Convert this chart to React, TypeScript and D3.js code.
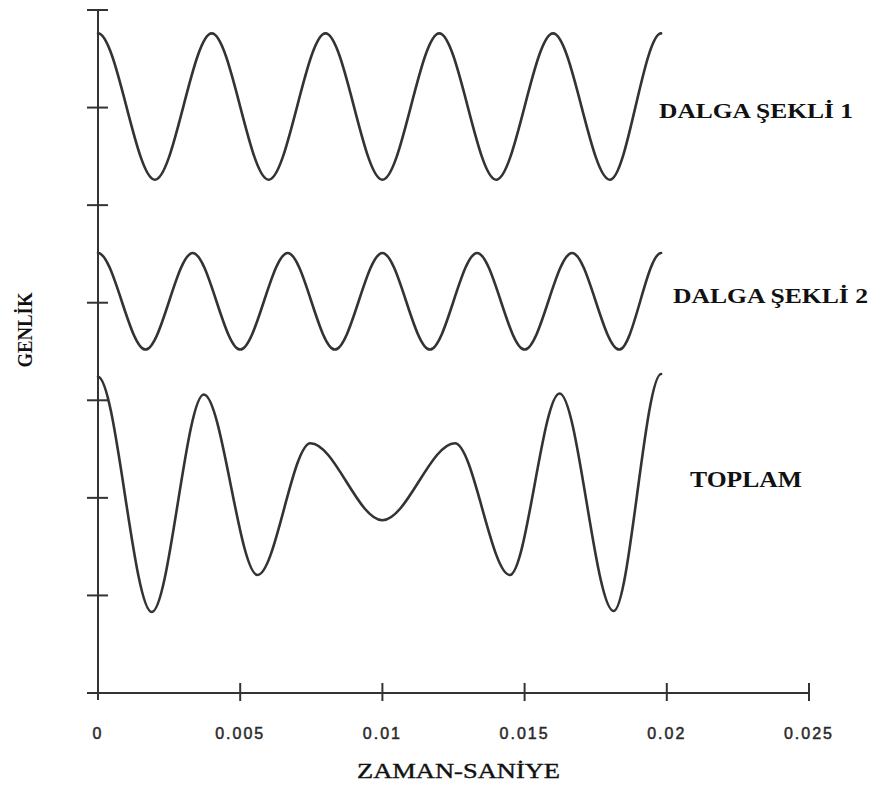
import React from "react";
import * as d3 from "d3";

// ---- data ----
const xTicks = [0, 0.005, 0.01, 0.015, 0.02, 0.025];
const xTickLabels = ["0", "0.005", "0.01", "0.015", "0.02", "0.025"];
const yTicks = [1, 2, 3, 4, 5, 6, 7];

// Waveform 1 (peaks and troughs)
const t1 = [0, 0.002, 0.004, 0.006, 0.008, 0.01, 0.012, 0.014, 0.016, 0.018, 0.0198];
const v1 = [6.76, 5.26, 6.76, 5.26, 6.76, 5.26, 6.76, 5.26, 6.76, 5.26, 6.76];

// Waveform 2 (peaks and troughs)
const t2 = [0, 0.00167, 0.00333, 0.005, 0.00667, 0.00833, 0.01, 0.01167, 0.01333, 0.015, 0.01667, 0.01833, 0.0198];
const v2 = [4.51, 3.52, 4.51, 3.52, 4.51, 3.52, 4.51, 3.52, 4.51, 3.52, 4.51, 3.52, 4.51];

// Sum (peaks and troughs)
const tSum = [0, 0.00189, 0.00372, 0.00561, 0.00747, 0.01, 0.01255, 0.01448, 0.01623, 0.01813, 0.0198];
const vSum = [3.24, 0.83, 3.06, 1.21, 2.56, 1.77, 2.56, 1.21, 3.07, 0.84, 3.27];

const W = 876;
const H = 785;

// Curve through turning points: horizontal tangent at every point (cubic Hermite).
function turningPointCurve(context: any) {
  let pts: [number, number][] = [];
  return {
    areaStart() {},
    areaEnd() {},
    lineStart() {
      pts = [];
    },
    point(x: number, y: number) {
      pts.push([+x, +y]);
    },
    lineEnd() {
      if (!pts.length) return;
      context.moveTo(pts[0][0], pts[0][1]);
      for (let i = 1; i < pts.length; i++) {
        const [xa, ya] = pts[i - 1];
        const [xb, yb] = pts[i];
        const dx = xb - xa;
        context.bezierCurveTo(xa + dx / 3, ya, xb - dx / 3, yb, xb, yb);
      }
    },
  };
}

export default function App() {
  const x = d3.scaleLinear().domain([0, 0.025]).range([98, 809]);
  const y = d3.scaleLinear().domain([0, 7]).range([693, 10]);

  const line = d3
    .line<[number, number]>()
    .x((d) => x(d[0]))
    .y((d) => y(d[1]))
    .curve(turningPointCurve as any);

  const series = [
    t1.map((t, i) => [t, v1[i]] as [number, number]),
    t2.map((t, i) => [t, v2[i]] as [number, number]),
    tSum.map((t, i) => [t, vSum[i]] as [number, number]),
  ];

  const ink = "#333";
  const x0 = x(0);
  const yBase = y(0);
  const serif = "Liberation Serif, Times New Roman, serif";

  return (
    <svg
      width={W}
      height={H}
      style={{ position: "absolute", left: 0, top: 0, background: "#fff" }}
    >
      <rect x={0} y={0} width={W} height={H} fill="#fff" />
      {/* axes */}
      <line x1={x0} x2={x0} y1={y(7)} y2={yBase + 7} stroke={ink} strokeWidth={2} />
      <line x1={x0 - 11} x2={x(0.025)} y1={yBase} y2={yBase} stroke={ink} strokeWidth={2} />
      {yTicks.map((v) => (
        <line key={"yt" + v} x1={x0 - 11} x2={x0 + 10} y1={y(v)} y2={y(v)} stroke={ink} strokeWidth={2} />
      ))}
      {xTicks.slice(1).map((v) => (
        <line key={"xt" + v} x1={x(v)} x2={x(v)} y1={yBase - 10} y2={yBase + 8} stroke={ink} strokeWidth={2} />
      ))}
      {xTicks.map((v, i) => (
        <text
          key={"xl" + v}
          x={x(v)}
          y={739}
          textAnchor="middle"
          fontFamily="Liberation Sans, Arial, sans-serif"
          fontSize={16}
          letterSpacing={2}
          fill="#2a2a2a"
          stroke="#2a2a2a"
          strokeWidth={0.5}
        >
          {xTickLabels[i]}
        </text>
      ))}

      {/* waves */}
      {series.map((s, i) => (
        <path key={"s" + i} d={line(s) || ""} fill="none" stroke={ink} strokeWidth={2.6} strokeLinejoin="round" strokeLinecap="round" />
      ))}

      {/* labels */}
      <text x={659} y={118} fontFamily={serif} fontWeight="bold" fontSize={22} textLength={194} lengthAdjust="spacingAndGlyphs" fill="#111">
        DALGA ŞEKLİ 1
      </text>
      <text x={673} y={303} fontFamily={serif} fontWeight="bold" fontSize={22} textLength={195} lengthAdjust="spacingAndGlyphs" fill="#111">
        DALGA ŞEKLİ 2
      </text>
      <text x={690} y={487} fontFamily={serif} fontWeight="bold" fontSize={24} textLength={112} lengthAdjust="spacingAndGlyphs" fill="#111">
        TOPLAM
      </text>
      <text x={357} y={778} fontFamily={serif} fontSize={22} textLength={203} lengthAdjust="spacingAndGlyphs" fill="#111" stroke="#111" strokeWidth={0.4}>
        ZAMAN-SANİYE
      </text>
      <text
        transform="translate(32,330) rotate(-90)"
        textAnchor="middle"
        fontFamily={serif}
        fontWeight="bold"
        fontSize={21}
        textLength={75}
        lengthAdjust="spacingAndGlyphs"
        fill="#111"
      >
        GENLİK
      </text>
    </svg>
  );
}
